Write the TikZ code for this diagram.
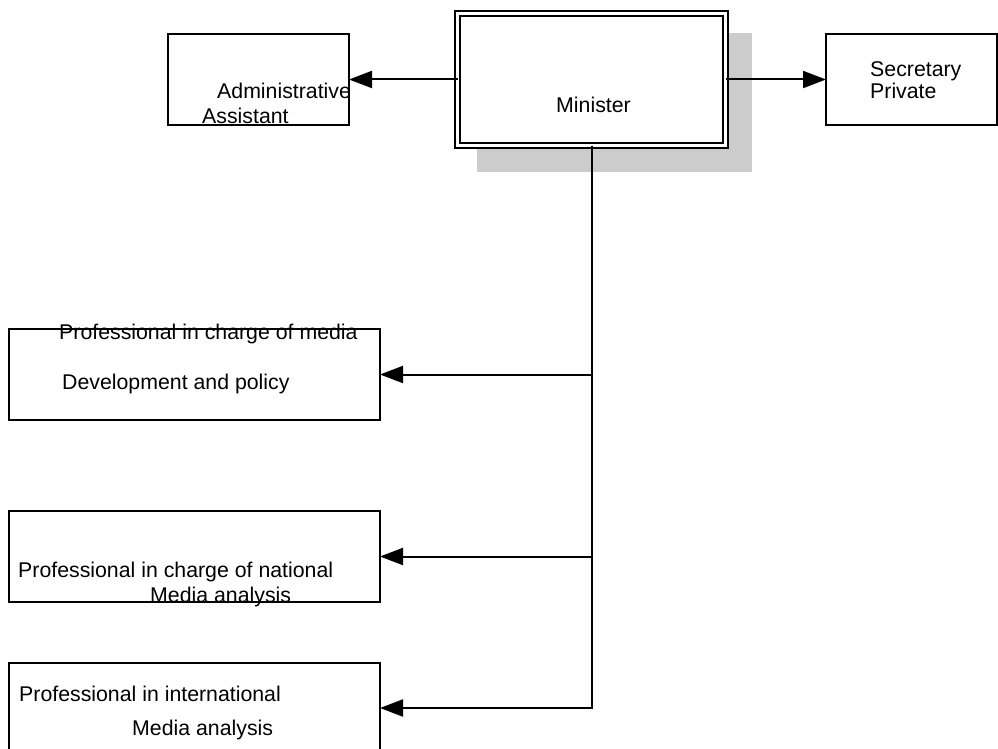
\documentclass[tikz,border=0pt]{standalone}
\usepackage{fontspec}
\setmainfont{Liberation Sans}
\usetikzlibrary{arrows.meta}
\definecolor{shadowgray}{RGB}{204,204,204}
\tikzset{
  box/.style={draw, line width=1.8pt, inner sep=0pt, outer sep=0pt, anchor=north west},
  txt/.style={inner sep=0pt, anchor=base west, font=\fontsize{21.3}{24}\selectfont},
  conn/.style={draw, line width=2pt, -{Triangle[length=23pt,width=17pt]}},
}
\begin{document}
\begin{tikzpicture}[x=1pt,y=-1pt]
\useasboundingbox (0,0) rectangle (998,749);
% shadow
\fill[shadowgray] (477,33) rectangle (752,172);
% minister (double frame)
\node[box, fill=white, line width=1.6pt, double, double distance=3.4pt, minimum width=268pt, minimum height=132pt] (min) at (457.5,13.5) {};
% other boxes
\node[box, minimum width=181pt, minimum height=91pt] (adm) at (168,34) {};
\node[box, minimum width=171pt, minimum height=91pt] (sec) at (826,34) {};
\node[box, minimum width=371pt, minimum height=91pt] (p1) at (9,329) {};
\node[box, minimum width=371pt, minimum height=91pt] (p2) at (9,511) {};
\node[box, minimum width=371pt, minimum height=90pt] (p3) at (9,663) {};
% connectors
\path[conn] (min.west) -- (adm.east);
\path[conn] (min.east) -- (sec.west);
\path[conn] (min.south) |- (p1.east);
\path[conn] (min.south) |- (p2.east);
\path[conn] (min.south) |- (p3.east);
% texts
\node[txt] (tmin) at (556,113) {Minister};
\node[txt] (tadm1) at (217,99) {Administrative};
\node[txt] (tadm2) at (202,124) {Assistant};
\node[txt] (tsec1) at (870,77) {Secretary};
\node[txt] (tsec2) at (870,99) {Private};
\node[txt] (tp1a) at (59,339) {Professional in charge of media};
\node[txt] (tp1b) at (62,389) {Development and policy};
\node[txt] (tp2a) at (18,577) {Professional in charge of national};
\node[txt] (tp2b) at (150,602) {Media analysis};
\node[txt] (tp3a) at (19,701) {Professional in international};
\node[txt] (tp3b) at (132,735) {Media analysis};
\end{tikzpicture}
\end{document}
